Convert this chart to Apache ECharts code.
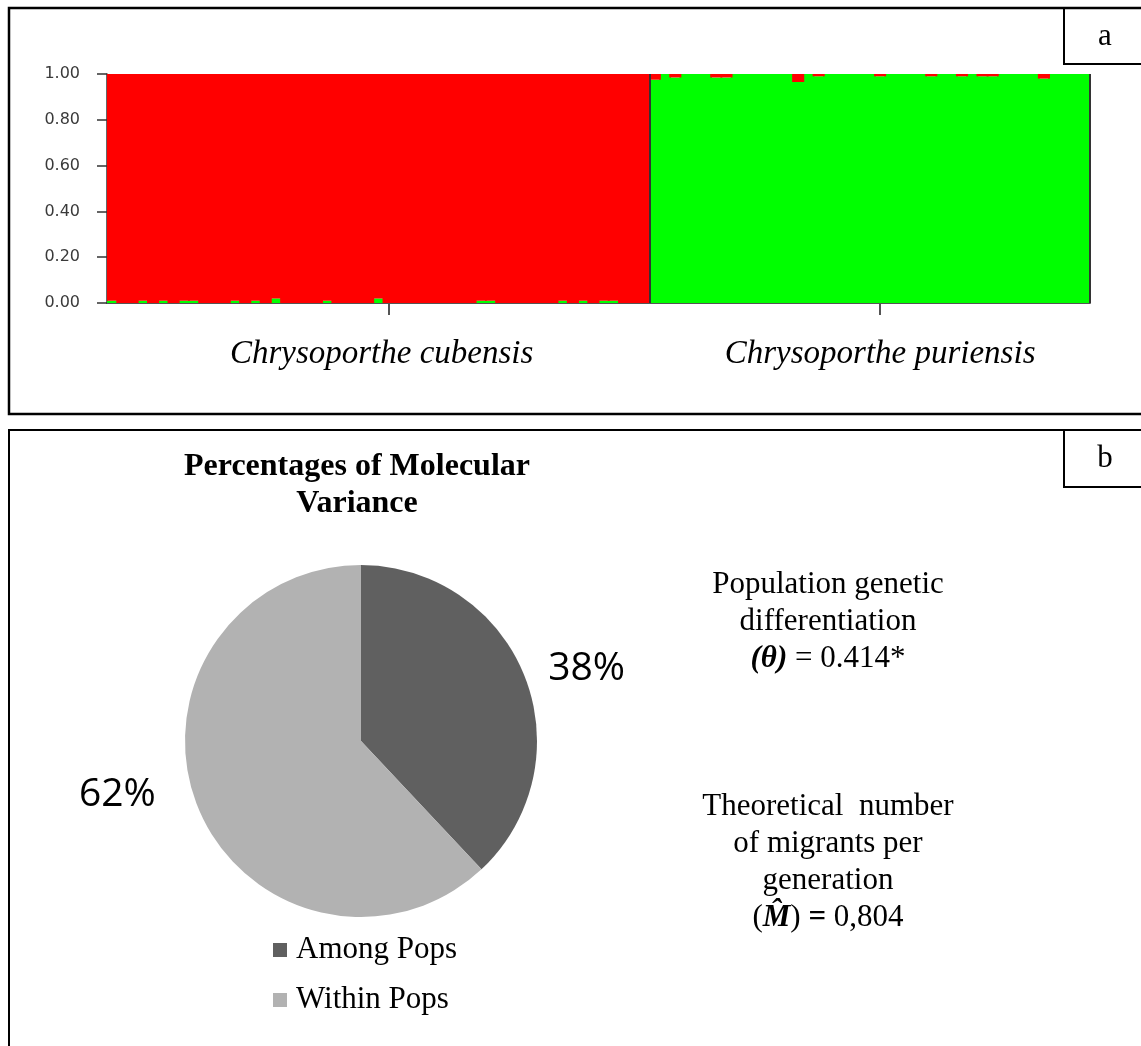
<!DOCTYPE html>
<html>
<head>
<meta charset="utf-8">
<script src="https://cdn.jsdelivr.net/npm/echarts@6/dist/echarts.min.js"></script>
<style>
html,body{margin:0;padding:0;background:#fff;}
#chart{width:1141px;height:1046px;}
</style>
</head>
<body>
<div id="chart"></div>
<script>
// ---- Panel a: STRUCTURE membership (K = 2) ----
const groupNames = ['Chrysoporthe cubensis', 'Chrysoporthe puriensis'];
const groupSizes = [53, 43];

// membership coefficient in the green cluster, per individual
const greenQ = [
  // C. cubensis (53)
  0.01, 0, 0, 0.01, 0, 0.01, 0, 0.01, 0.01, 0,
  0, 0, 0.01, 0, 0.01, 0, 0.02, 0, 0, 0,
  0, 0.01, 0, 0, 0, 0, 0.02, 0, 0, 0,
  0, 0, 0, 0, 0, 0, 0.01, 0.01, 0, 0,
  0, 0, 0, 0, 0.01, 0, 0.01, 0, 0.01, 0.01,
  0, 0, 0,
  // C. puriensis (43)
  0.975, 1, 0.985, 1, 1, 1, 0.985, 0.985, 1, 1,
  1, 1, 1, 1, 0.965, 1, 0.99, 1, 1, 1,
  1, 1, 0.99, 1, 1, 1, 1, 0.99, 1, 1,
  0.99, 1, 0.99, 0.99, 1, 1, 1, 1, 0.98, 1,
  1, 1, 1
];
// membership coefficient in the red cluster, per individual
const redQ = [
  // C. cubensis (53)
  0.99, 1, 1, 0.99, 1, 0.99, 1, 0.99, 0.99, 1,
  1, 1, 0.99, 1, 0.99, 1, 0.98, 1, 1, 1,
  1, 0.99, 1, 1, 1, 1, 0.98, 1, 1, 1,
  1, 1, 1, 1, 1, 1, 0.99, 0.99, 1, 1,
  1, 1, 1, 1, 0.99, 1, 0.99, 1, 0.99, 0.99,
  1, 1, 1,
  // C. puriensis (43)
  0.025, 0, 0.015, 0, 0, 0, 0.015, 0.015, 0, 0,
  0, 0, 0, 0, 0.035, 0, 0.01, 0, 0, 0,
  0, 0, 0.01, 0, 0, 0, 0, 0.01, 0, 0,
  0.01, 0, 0.01, 0.01, 0, 0, 0, 0, 0.02, 0,
  0, 0, 0
];
const yTicks = [0, 0.2, 0.4, 0.6, 0.8, 1.0];

// ---- Panel b: AMOVA ----
const amovaNames = ['Among Pops', 'Within Pops'];
const amovaValues = [38, 62];
const thetaText = '0.414*';
const migrantsText = '0,804';

// build category list: one entry per individual, named by its group
const individuals = [];
const groupStarts = [];
groupSizes.forEach((n, g) => {
  groupStarts.push(individuals.length);
  for (let i = 0; i < n; i++) individuals.push(groupNames[g]);
});
const total = individuals.length;
const labelIdx = groupSizes.map((n, g) => groupStarts[g] + Math.floor(n / 2) + 1);
const boundaries = groupSizes.map((n, g) => groupStarts[g] + n);

const serif = 'Liberation Serif, Times New Roman, serif';

const chart = echarts.init(document.getElementById('chart'), null, {renderer: 'canvas'});
const catLabelStyle = {fontFamily: serif, fontStyle: 'italic', fontSize: 33, color: '#000'};
const option = {
  animation: false,
  backgroundColor: '#ffffff',
  textStyle: {fontFamily: serif},
  graphic: [
    {type: 'rect', silent: true, shape: {x: 9, y: 8, width: 1140, height: 406}, style: {fill: 'none', stroke: '#000', lineWidth: 2.5}},
    {type: 'rect', silent: true, shape: {x: 1064, y: 8, width: 90, height: 56}, style: {fill: 'none', stroke: '#000', lineWidth: 2}},
    {type: 'text', silent: true, x: 1105, y: 37, style: {text: 'a', font: '31px ' + serif, fill: '#000', align: 'center', verticalAlign: 'middle'}},
    {type: 'rect', silent: true, shape: {x: 9, y: 430, width: 1140, height: 700}, style: {fill: 'none', stroke: '#000', lineWidth: 2}},
    {type: 'rect', silent: true, shape: {x: 1064, y: 430, width: 90, height: 57}, style: {fill: 'none', stroke: '#000', lineWidth: 2}},
    {type: 'text', silent: true, x: 1105, y: 459, style: {text: 'b', font: '31px ' + serif, fill: '#000', align: 'center', verticalAlign: 'middle'}}
  ],
  title: [
    {
      text: 'Percentages of Molecular\nVariance',
      left: 357, top: 448, padding: 0, textAlign: 'center',
      textStyle: {fontFamily: serif, fontWeight: 'bold', fontSize: 32, lineHeight: 37, color: '#000'}
    },
    {
      text: 'Population genetic\ndifferentiation\n{bi|(θ)} = ' + thetaText,
      left: 828, top: 566, padding: 0, textAlign: 'center',
      textStyle: {
        fontFamily: serif, fontWeight: 'normal', fontSize: 31, lineHeight: 37, color: '#000',
        rich: {bi: {fontFamily: serif, fontWeight: 'bold', fontStyle: 'italic', fontSize: 31, lineHeight: 37, color: '#000'}}
      }
    },
    {
      text: 'Theoretical  number\nof migrants per\ngeneration\n({bi|M\u0302}) {b|=} ' + migrantsText,
      left: 828, top: 788, padding: 0, textAlign: 'center',
      textStyle: {
        fontFamily: serif, fontWeight: 'normal', fontSize: 31, lineHeight: 37, color: '#000',
        rich: {
          bi: {fontFamily: serif, fontWeight: 'bold', fontStyle: 'italic', fontSize: 31, lineHeight: 37, color: '#000'},
          b: {fontFamily: serif, fontWeight: 'bold', fontSize: 31, lineHeight: 37, color: '#000'}
        }
      }
    }
  ],
  legend: {
    data: amovaNames,
    orient: 'vertical',
    left: 273, top: 933, padding: 0,
    itemWidth: 14, itemHeight: 14, itemGap: 16,
    icon: 'rect',
    selectedMode: false,
    textStyle: {fontFamily: serif, fontSize: 31, lineHeight: 34, color: '#000', padding: [0, 0, 0, 4]}
  },
  grid: {left: 107, right: 51, top: 74, bottom: 743, containLabel: false},
  xAxis: [
    {
      type: 'category',
      data: individuals,
      boundaryGap: true,
      axisLine: {show: true, lineStyle: {color: '#555', width: 2}},
      axisTick: {show: true, alignWithLabel: true, length: 12, interval: (i) => labelIdx.includes(i), lineStyle: {color: '#555', width: 2}},
      axisLabel: Object.assign({
        interval: (i) => labelIdx.includes(i),
        margin: 35,
        formatter: (v, i) => (i === labelIdx[0] ? '{l|' + v + '}' : '{r|' + v + '}'),
        rich: {
          l: Object.assign({padding: [0, 14, 0, 0]}, catLabelStyle),
          r: Object.assign({}, catLabelStyle)
        }
      }, catLabelStyle),
      splitLine: {show: false}
    },
    {type: 'value', min: 0, max: total, show: false}
  ],
  yAxis: {
    type: 'value', min: yTicks[0], max: yTicks[yTicks.length - 1], interval: yTicks[1] - yTicks[0],
    axisLine: {show: true, lineStyle: {color: '#333', width: 1.5}},
    axisTick: {show: true, length: 10, lineStyle: {color: '#333', width: 1.5}},
    axisLabel: {margin: 27, formatter: (v) => v.toFixed(2), fontFamily: 'DejaVu Sans', fontSize: 16, color: '#3a3a3a'},
    splitLine: {show: false}
  },
  series: [
    {
      name: 'Cluster green', type: 'bar', stack: 'q', data: greenQ,
      barWidth: '118%', large: false,
      itemStyle: {color: '#00ff00', borderWidth: 0}, silent: true
    },
    {
      name: 'Cluster red', type: 'bar', stack: 'q', data: redQ,
      barWidth: '118%', large: false,
      itemStyle: {color: '#ff0000', borderWidth: 0}, silent: true
    },
    {
      name: 'Group boundaries', type: 'line', xAxisIndex: 1, data: [], silent: true,
      markLine: {
        silent: true, symbol: 'none', animation: false,
        label: {show: false},
        lineStyle: {color: '#333', width: 2, type: 'solid'},
        data: boundaries.map((b) => ({xAxis: b}))
      }
    },
    {
      name: 'AMOVA', type: 'pie',
      center: [361, 741], radius: 176,
      startAngle: 90, clockwise: true,
      silent: true,
      data: amovaNames.map((n, i) => ({
        name: n, value: amovaValues[i],
        itemStyle: {color: i === 0 ? '#606060' : '#b2b2b2'}
      })),
      label: {
        show: true, position: 'outside', formatter: '{c}%',
        fontFamily: 'Open Sans', fontSize: 39, color: '#000'
      },
      labelLine: {show: false, length: 20, length2: 0},
      labelLayout: (p) => (p.dataIndex === 1 ? {dx: -18, dy: -18} : {})
    }
  ]
};
chart.setOption(option);
</script>
</body>
</html>
